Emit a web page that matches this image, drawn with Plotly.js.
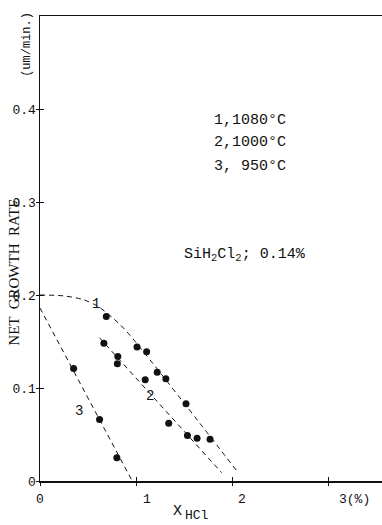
<!DOCTYPE html>
<html>
<head>
<meta charset="utf-8">
<script src="https://cdn.plot.ly/plotly-3.0.1.min.js"></script>
<style>
html,body{margin:0;padding:0;background:#fff;}
#chart{width:382px;height:525px;}
</style>
</head>
<body>
<div id="chart"></div>
<script>
// Measured points (X_HCl in %, net growth rate in um/min)
const s1X = [0.69, 1.01, 1.11, 1.22, 1.31, 1.52, 1.77];
const s1Y = [0.177, 0.144, 0.139, 0.117, 0.110, 0.083, 0.045];
const s2X = [0.665, 0.81, 0.805, 1.095, 1.34, 1.535, 1.635];
const s2Y = [0.148, 0.134, 0.126, 0.109, 0.062, 0.049, 0.046];
const s3X = [0.35, 0.62, 0.80];
const s3Y = [0.121, 0.066, 0.025];

// Dashed fit curves
const fit1X = [0, 0.25, 0.45, 0.6, 0.75, 0.9, 2.07];
const fit1Y = [0.2, 0.199, 0.195, 0.188, 0.176, 0.161, 0.008];
const fit2X = [0.62, 1.89];
const fit2Y = [0.154, 0.009];
const fit3X = [0, 0.955];
const fit3Y = [0.186, 0.001];

const curveLabels = ["1", "2", "3"];
const curveLabelX = [0.58, 1.14, 0.41];
const curveLabelY = [0.19, 0.091, 0.075];

const legendLines = ["1,1080°C", "2,1000°C", "3, 950°C"];
const legendY = [0.388, 0.364, 0.338];

const xTickVals = [0, 1, 2, 3];
const xTickText = ["0", "1", "2", "3(%)"];
const yTickVals = [0, 0.1, 0.2, 0.3, 0.4];
const yTickText = ["0", "0.1", "0.2", "0.3", "0.4"];

const FONT = "Liberation Mono, DejaVu Sans Mono, monospace";
const INK = "#111";
const xRange = [0, 3.56];
const yRange = [0, 0.5];

const dashLine = {color: INK, width: 1, dash: "5px,4px"};
const dot = {color: INK, size: 7};

const traces = [
  {x: fit1X, y: fit1Y, mode: "lines", line: Object.assign({shape: "spline", smoothing: 0.8}, dashLine), hoverinfo: "skip"},
  {x: fit2X, y: fit2Y, mode: "lines", line: dashLine, hoverinfo: "skip"},
  {x: fit3X, y: fit3Y, mode: "lines", line: dashLine, hoverinfo: "skip"},
  {x: s1X, y: s1Y, mode: "markers", marker: dot},
  {x: s2X, y: s2Y, mode: "markers", marker: dot},
  {x: s3X, y: s3Y, mode: "markers", marker: dot},
  {x: [], y: [], xaxis: "x2", yaxis: "y2", mode: "markers", hoverinfo: "skip"}
];

const annotations = [];
curveLabels.forEach((t, i) => annotations.push({
  x: curveLabelX[i], y: curveLabelY[i], xref: "x", yref: "y", text: t,
  showarrow: false, font: {family: FONT, size: 14, color: INK}
}));
legendLines.forEach((t, i) => annotations.push({
  x: 1.786, y: legendY[i], xref: "x", yref: "y", text: t, xanchor: "left",
  showarrow: false, font: {family: FONT, size: 15, color: INK}
}));
annotations.push({
  x: 1.48, y: 0.243, xref: "x", yref: "y", xanchor: "left",
  text: "SiH<sub>2</sub>Cl<sub>2</sub>; 0.14%", showarrow: false,
  font: {family: FONT, size: 15, color: INK}
});
// x tick labels
const xLabelPos = [0, 1.11, 2.1, 3.09];
xTickText.forEach((t, i) => annotations.push({
  x: xLabelPos[i], y: -0.039, xref: "x", yref: "paper", text: t,
  xanchor: i === 3 ? "left" : "center", yanchor: "middle",
  showarrow: false, font: {family: FONT, size: 13, color: INK}
}));
// x title: X with subscript HCl
annotations.push({
  x: 1.43, y: -0.066, xref: "x", yref: "paper", text: "X",
  xanchor: "center", showarrow: false, yanchor: "middle", font: {family: FONT, size: 15, color: INK}
});
annotations.push({
  x: 1.49, y: -0.075, xref: "x", yref: "paper", text: "HCl",
  xanchor: "left", showarrow: false, yanchor: "middle", font: {family: FONT, size: 13, color: INK}
});
// y titles
annotations.push({
  x: -0.076, y: 0.224, xref: "paper", yref: "y", text: "NET  GROWTH  RATE",
  xanchor: "center", yanchor: "middle",
  textangle: -90, showarrow: false, font: {family: "Liberation Serif, serif", size: 15, color: INK}
});
annotations.push({
  x: -0.038, y: 0.469, xref: "paper", yref: "y", text: "(um/min.)",
  xanchor: "center", yanchor: "middle",
  textangle: -90, showarrow: false, font: {family: FONT, size: 12, color: INK}
});

const layout = {
  width: 382, height: 525,
  margin: {l: 40, r: 0, t: 16, b: 44},
  paper_bgcolor: "#fff", plot_bgcolor: "#fff",
  showlegend: false,
  xaxis: {
    range: xRange, showgrid: false, zeroline: false,
    showline: true, linecolor: INK, linewidth: 1.5, mirror: true,
    tickvals: xTickVals, ticks: "inside", ticklen: 4, tickcolor: INK,
    showticklabels: false
  },
  yaxis: {
    range: yRange, showgrid: false, zeroline: false,
    showline: true, linecolor: INK, linewidth: 1.5,
    tickvals: yTickVals, ticktext: yTickText, ticks: "inside", ticklen: 4, tickcolor: INK,
    ticklabelstandoff: 0,
    tickfont: {family: FONT, size: 13, color: INK}
  },
  xaxis2: {
    range: xRange, overlaying: "x", anchor: "y2", side: "bottom",
    showgrid: false, zeroline: false, showline: false,
    tickvals: xTickVals, ticks: "outside", ticklen: 4, tickcolor: INK, showticklabels: false
  },
  yaxis2: {
    range: yRange, overlaying: "y", anchor: "x2", side: "left",
    showgrid: false, zeroline: false, showline: false,
    tickvals: yTickVals, ticks: "outside", ticklen: 3, tickcolor: INK, showticklabels: false
  },
  annotations: annotations
};

Plotly.newPlot("chart", traces, layout, {displayModeBar: false, staticPlot: true});
</script>
</body>
</html>
